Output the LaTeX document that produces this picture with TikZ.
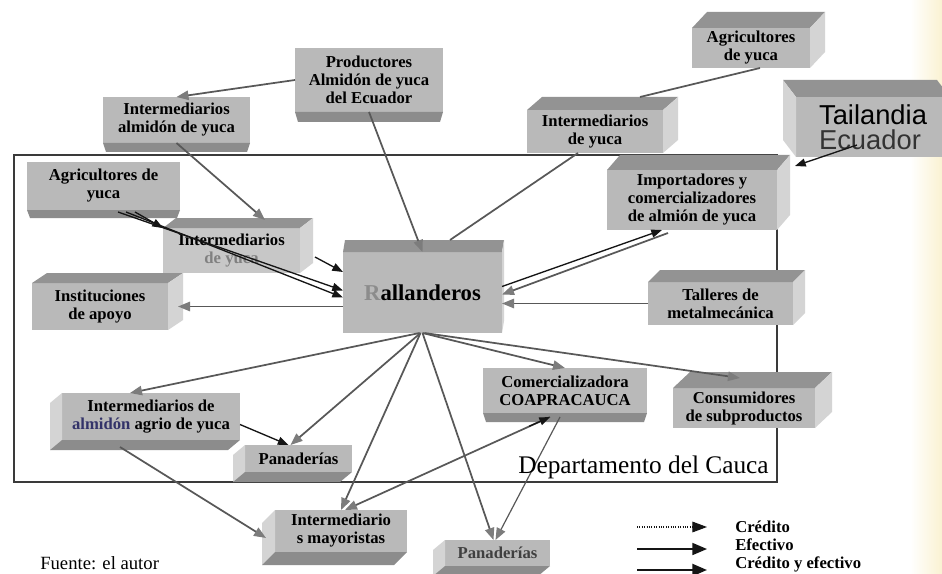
\documentclass[tikz,border=0pt]{standalone}
\usepackage{fontspec}
\setmainfont{Liberation Serif}
\newfontfamily\tailfont{Liberation Sans}
\usetikzlibrary{arrows.meta,calc,fit}

\definecolor{frontc}{HTML}{B9B9B9}
\definecolor{topc}{HTML}{939393}
\definecolor{sidec}{HTML}{D4D4D4}
\definecolor{bottomc}{HTML}{8C8C8C}
\definecolor{linec}{HTML}{585858}
\definecolor{tipc}{HTML}{7C7C7C}
\definecolor{inkc}{HTML}{151515}
\definecolor{framec}{HTML}{3A3A3A}
\definecolor{paperc}{HTML}{FAF2D2}

\newcommand\boxfont{\bfseries\fontsize{12.5}{13.5}\selectfont}

% front face of a box: [options]{name}{x1}{y1}{x2}{y2}{text}
\newcommand\frontbox[7][]{%
  \node[front, minimum width={(#5-#3)*0.75pt}, minimum height={(#6-#4)*0.75pt}, #1]
    (#2) at ({(#3+#5)/2},{(#4+#6)/2}) {#7};}

% extruded faces of a box whose front face is node #1
\newcommand\facesTR[3]{% top and right faces, depth #2 to the right, #3 upwards
  \fill[topc] (#1.north west) -- ++(#2,-#3) -- ([shift={(#2,-#3)}]#1.north east) -- (#1.north east) -- cycle;
  \fill[sidec] (#1.north east) -- ++(#2,-#3) -- ([shift={(#2,-#3)}]#1.south east) -- (#1.south east) -- cycle;}
\newcommand\facesTL[3]{% top and left faces
  \fill[topc] (#1.north east) -- ++(-#2,-#3) -- ([shift={(-#2,-#3)}]#1.north west) -- (#1.north west) -- cycle;
  \fill[sidec] (#1.north west) -- ++(-#2,-#3) -- ([shift={(-#2,-#3)}]#1.south west) -- (#1.south west) -- cycle;}
\newcommand\facesBL[3]{% left and bottom faces
  \fill[sidec] (#1.north west) -- ++(-#2,#3) -- ([shift={(-#2,#3)}]#1.south west) -- (#1.south west) -- cycle;
  \fill[bottomc] (#1.south west) -- ++(-#2,#3) -- ([shift={(-#2,#3)}]#1.south east) -- (#1.south east) -- cycle;}
\newcommand\faceB[2]{% bottom face only
  \fill[bottomc] (#1.south west) -- (#1.south east) -- ++(-3,#2) -- ([shift={(3,#2)}]#1.south west) -- cycle;}

\tikzset{
  front/.style={fill=frontc, inner sep=0pt, outer sep=0pt, align=center, font=\boxfont, text=black},
  gline/.style={draw=linec, line width=1.3pt},
  gthin/.style={draw=linec, line width=0.9pt, -{Triangle[length=9pt,width=7pt,color=tipc]}},
  garrow/.style={gline, -{Triangle[length=9pt,width=7pt,color=tipc]}},
  barrow/.style={draw=inkc, line width=1pt, -{Triangle[length=8pt,width=6pt]}},
  keytext/.style={anchor=west, inner sep=0pt, font=\bfseries\fontsize{12.5}{13}\selectfont},
}

\begin{document}
\begin{tikzpicture}[x=0.75pt,y=-0.75pt]
\useasboundingbox (0,0) rectangle (942,574);
\fill[white] (0,0) rectangle (942,574);
\fill[left color=white, right color=paperc] (910,0) rectangle (942,574);

% frame of the department
\node[draw=framec, line width=1.5pt, inner sep=0pt, fit={(14,155) (777,482)}] (cauca) {};

% boxes
\frontbox{prod}{295}{48}{443}{112}{Productores\\Almidón de yuca\\del Ecuador}
\faceB{prod}{10}
\frontbox{iay}{103}{97}{250}{143}{Intermediarios\\almidón de yuca}
\faceB{iay}{9}
\frontbox{agl}{27}{162}{180}{210}{Agricultores de\\yuca}
\faceB{agl}{8}
\frontbox[fill=frontc!80]{iyi}{163}{228}{300}{273}{Intermediarios\\{\color{gray}de yuca}}
\facesTR{iyi}{13}{10}
\frontbox[font=\bfseries\fontsize{17}{19}\selectfont]{ral}{343}{252}{502}{333}{{\color{gray!90}R}allanderos}
\facesTR{ral}{2}{12}
\frontbox{inst}{32}{283}{168}{330}{Instituciones\\de apoyo}
\facesTR{inst}{15}{10}
\frontbox{iyr}{527}{110}{663}{153}{Intermediarios\\de yuca}
\facesTR{iyr}{15}{13}
\frontbox{agr}{692}{28}{810}{68}{Agricultores\\de yuca}
\facesTR{agr}{15}{16}
\frontbox[align=left, font=\tailfont\fontsize{20.5}{19}\selectfont]{tai}{796}{97}{950}{157}{Tailandia\\{\color{black!80}Ecuador}}
\facesTL{tai}{13}{17}
\frontbox{imp}{607}{170}{777}{230}{Importadores y\\comercializadores\\de almión de yuca}
\facesTR{imp}{13}{15}
\frontbox{tal}{648}{282}{793}{325}{Talleres de\\metalmecánica}
\facesTR{tal}{12}{12}
\frontbox{com}{483}{368}{647}{413}{Comercializadora\\COAPRACAUCA}
\faceB{com}{9}
\frontbox{con}{673}{388}{815}{428}{Consumidores\\de subproductos}
\facesTR{con}{17}{16}
\frontbox{iaa}{62}{393}{240}{440}{Intermediarios de\\{\color{black!65!blue!60!gray}almidón} agrio de yuca}
\facesBL{iaa}{12}{10}
\frontbox{pan1}{245}{445}{352}{472}{Panaderías}
\facesBL{pan1}{12}{10}
\frontbox{may}{275}{510}{407}{552}{Intermediario\\s mayoristas}
\facesBL{may}{13}{13}
\frontbox{pan2}{445}{540}{550}{566}{{\color{black!75}Panaderías}}
\facesBL{pan2}{12}{10}

% flows at the top
\draw[garrow] (prod.west) -- (iay.north);
\draw[garrow] (prod.south) -- (ral.north);
\draw[garrow] (iay.south) -- ($(iyi.north east)+(-35,-8)$);
\draw[gline] ($(agr.south)+(9,0)$) -- ($(iyr.north east)+(-23,-13)$);
\draw[gline] ($(iyr.south)+(-17,0)$) -- ($(ral.north east)+(-52,-12)$);
\draw[barrow] ($(tai.south west)+(61,-12)$) -- ($(imp.north east)+(18,-4)$);

% flows into the graters
\draw[barrow] ($(agl.south east)+(-62,2)$) -- ($(ral.west)+(0,-2)$);
\draw[barrow] ($(agl.south east)+(-54,2)$) -- ($(ral.west)+(0,5)$);
\draw[barrow] ($(agl.south east)+(-45,2)$) -- (iyi.north west);
\draw[barrow] ($(iyi.south east)+(15,-16)$) -- ($(ral.north west)+(0,20)$);
\draw[garrow] ($(ral.west)+(0,14)$) -- ($(inst.east)+(10,0)$);
\draw[barrow] ($(ral.east)+(0,-6)$) -- ($(imp.south west)+(55,0)$);
\draw[garrow] ($(imp.south west)+(61,3)$) -- ($(ral.east)+(0,2)$);
\draw[garrow] (tal.west) -- (tal.west -| ral.east);

% flows out of the graters
\draw[garrow] ($(ral.south)+(-3,0)$) -- ($(iaa.north west)+(68,0)$);
\draw[garrow] ($(ral.south)+(-2,0)$) -- ($(pan1.north)+(-8,0)$);
\draw[garrow] ($(ral.south)+(-2,0)$) -- (may.north);
\draw[garrow] (ral.south) -- ($(pan2.north)+(-4,0)$);
\draw[garrow] (ral.south) -- (com.north);
\draw[garrow] ($(ral.south)+(2,0)$) -- ($(con.north)+(-4,-10)$);

% downstream flows
\draw[barrow] ($(iaa.east)+(0,8)$) -- ($(pan1.north)+(-10,0)$);
\draw[garrow] ($(iaa.south)+(-31,7)$) -- ($(may.west)+(-9,7)$);
\coordinate (comfoot) at ($(com.south)+(-15,4)$);
\draw[garrow] (comfoot) -- ($(may.north)+(4,0)$);
\draw[barrow] ($(comfoot)!0.1!(may.north)$) -- (comfoot);
\draw[gthin] ($(com.south)+(-5,4)$) -- ($(pan2.north)+(-2,0)$);

% labels
\node[anchor=west, inner sep=0pt, font=\fontsize{19}{21}\selectfont] (dept) at (518,467) {Departamento del Cauca};
\node[anchor=west, inner sep=0pt, font=\fontsize{14}{16}\selectfont] (src) at (40,563) {Fuente: el autor};

% key
\coordinate (k1a) at (637,527); \coordinate (k1b) at (707,527);
\coordinate (k2a) at (637,549); \coordinate (k2b) at (707,549);
\coordinate (k3a) at (637,570); \coordinate (k3b) at (707,570);
\draw[draw=inkc, line width=0.8pt, densely dotted, -{Triangle[length=11pt,width=8pt]}] (k1a) -- (k1b);
\draw[draw=inkc, line width=1.3pt, -{Triangle[length=11pt,width=9pt]}] (k2a) -- (k2b);
\draw[draw=inkc, line width=1.7pt, -{Triangle[length=11pt,width=9pt]}] (k3a) -- (k3b);
\node[keytext] (k1t) at (735,527) {Crédito};
\node[keytext] (k2t) at (735,545) {Efectivo};
\node[keytext] (k3t) at (735,564) {Crédito y efectivo};
\end{tikzpicture}
\end{document}
